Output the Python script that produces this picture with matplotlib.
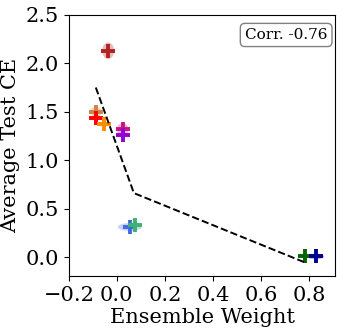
import matplotlib
matplotlib.use("Agg")
import matplotlib.pyplot as plt
from matplotlib.patches import Ellipse

plt.rcParams['font.family'] = ['DejaVu Serif']

weights = [-0.036, -0.087, -0.085, -0.053, 0.024, 0.024, 0.054, 0.075, 0.783, 0.828]
test_ce = [2.13, 1.50, 1.44, 1.377, 1.32, 1.256, 0.31, 0.334, 0.006, 0.006]
weight_std = [0.05, 0.05, 0.03, 0.02, 0.05, 0.02, 0.10, 0.03, 0.03, 0.07]
ce_std = [0.17, 0.10, 0.06, 0.04, 0.12, 0.04, 0.08, 0.04, 0.04, 0.06]
colors = ['#b22222', '#cd853f', '#ff0000', '#ff8c00', '#c71585', '#9400d3',
          '#4169e1', '#3cb371', '#006400', '#00008b']
trend_x = [-0.0875, 0.071, 0.783]
trend_y = [1.75, 0.66, -0.056]
corr_text = "Corr. -0.76"

fig, ax = plt.subplots(figsize=(3.44, 3.31), dpi=100)
for x, y, sx, sy, c in zip(weights, test_ce, weight_std, ce_std, colors):
    ax.add_patch(Ellipse((x, y), sx, sy, color=c, alpha=0.3, lw=0))
    ax.plot(x, y, '+', color=c, ms=10.5, mew=2.8)
ax.plot(trend_x, trend_y, '--', color='black', lw=1.4)

ax.set_xlim(-0.2, 0.91)
ax.set_ylim(-0.2, 2.5)
ax.set_xticks([-0.2, 0.0, 0.2, 0.4, 0.6, 0.8])
ax.set_yticks([0.0, 0.5, 1.0, 1.5, 2.0, 2.5])
ax.tick_params(labelsize=15)
ax.set_xlabel("Ensemble Weight", fontsize=15, labelpad=2)
ax.set_ylabel("Average Test CE", fontsize=15, labelpad=4)
ax.text(0.97, 0.95, corr_text, transform=ax.transAxes, ha='right', va='top',
        fontsize=11, bbox=dict(boxstyle='round,pad=0.3', fc='white', ec='gray'))
fig.subplots_adjust(left=0.2, right=0.975, top=0.955, bottom=0.165)
fig.savefig("out.png", dpi=100)
